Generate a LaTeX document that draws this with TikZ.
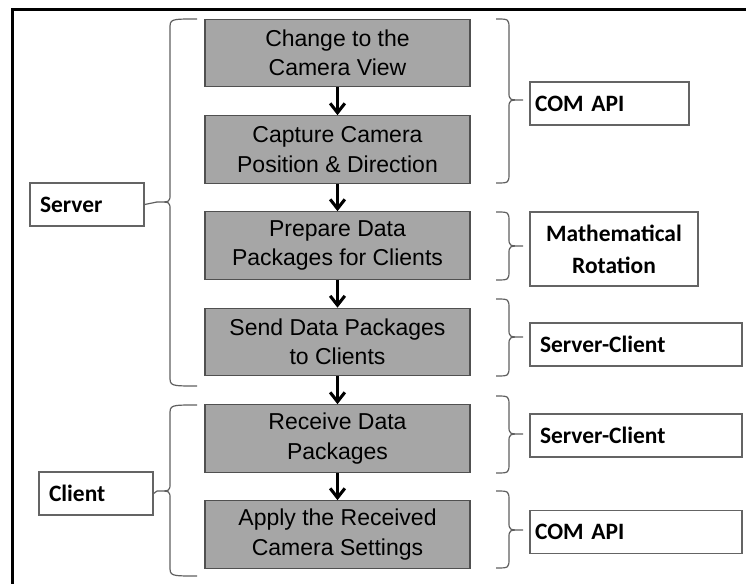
\documentclass[tikz,border=0pt]{standalone}
\usepackage{fontspec}
\setmainfont{Liberation Sans}
\newfontfamily\lblfont{Carlito}
\usetikzlibrary{arrows.meta}
\definecolor{boxfill}{RGB}{166,166,166}
\definecolor{boxedge}{RGB}{80,80,80}
\definecolor{labedge}{RGB}{100,100,100}
\definecolor{bracecol}{RGB}{95,95,95}
% brace: #1 end x, #2 straight x, #3 tip x, #4 top y, #5 bottom y, #6 tip y, #7 tip coordinate name
\newcommand\mybrace[7]{%
  \draw[brc] (#1,#4) .. controls (#2,#4) and (#2,#4) .. (#2,#4+10)
    -- (#2,#6-8) .. controls (#2,#6) and (#2,#6) .. (#3,#6)
    coordinate (#7)
    .. controls (#2,#6) and (#2,#6) .. (#2,#6+8)
    -- (#2,#5-10) .. controls (#2,#5) and (#2,#5) .. (#1,#5);}
\begin{document}
\begin{tikzpicture}[x=0.75pt,y=-0.75pt,
  stepbox/.style={draw=boxedge, line width=0.9pt, fill=boxfill, minimum width=198.75pt,
    minimum height=50.6pt, inner sep=0pt, align=center,
    font=\fontsize{17.25pt}{22pt}\selectfont},
  labbox/.style={draw=labedge, line width=1.1pt, fill=white, minimum height=32.25pt,
    inner sep=0pt, font=\lblfont\bfseries\fontsize{17.6pt}{24pt}\selectfont},
  flow/.style={line width=2.3pt, -{Straight Barb[length=7pt,width=11pt]}},
  brc/.style={draw=bracecol, line width=0.9pt}]
\useasboundingbox (0,0) rectangle (746,584);
\clip (0,0) rectangle (746,584);
\draw[line width=2.3pt] (12.5,620) -- (12.5,9.5) -- (780,9.5);

% flow boxes
\node[stepbox] (b1) at (337.5,53) {Change to the\\Camera View};
\node[stepbox] (b2) at (337.5,149.5) {Capture Camera\\Position \& Direction};
\node[stepbox] (b3) at (337.5,245.5) {Prepare Data\\Packages for Clients};
\node[stepbox] (b4) at (337.5,342) {Send Data Packages\\to Clients};
\node[stepbox] (b5) at (337.5,438.5) {Receive Data\\Packages};
\node[stepbox] (b6) at (337.5,534.5) {Apply the Received\\Camera Settings};

\draw[flow] (b1.south) -- (b2.north);
\draw[flow] (b2.south) -- (b3.north);
\draw[flow] (b3.south) -- (b4.north);
\draw[flow] (b4.south) -- (b5.north);
\draw[flow] (b5.south) -- (b6.north);

% label boxes
\node[labbox, minimum width=85.5pt, text width=70.5pt, align=left] (server) at (87,204.5) {Server};
\node[labbox, minimum width=85.5pt, text width=70.5pt, align=left] (client) at (96,493.5) {Client};
\node[labbox, minimum width=119.25pt, text width=111.75pt, align=left] (com1) at (609.5,103.5) {COM API};
\node[labbox, minimum width=126pt, minimum height=55.5pt, align=center] (math) at (614,249) {Mathematical\\Rotation};
\node[labbox, minimum width=159pt, text width=144pt, align=left] (sc1) at (636,344.5) {Server-Client};
\node[labbox, minimum width=159pt, text width=144pt, align=left] (sc2) at (636,435.5) {Server-Client};
\node[labbox, minimum width=159pt, text width=151.5pt, align=left] (com2) at (636,532) {COM API};

% braces
\mybrace{197}{170}{157}{19}{386}{202}{stip}
\mybrace{197}{170}{157}{405}{576}{491}{ctip}
\draw[brc] (server.east) -- (stip);
\draw[brc] (client.east) -- (ctip);
\mybrace{496}{509}{523}{19}{183}{100}{t1}
\mybrace{496}{509}{523}{212}{280}{246}{t2}
\mybrace{496}{509}{523}{299}{376}{337}{t3}
\mybrace{496}{509}{523}{396}{473}{434}{t4}
\mybrace{496}{509}{523}{491}{568}{530}{t5}
\end{tikzpicture}
\end{document}
